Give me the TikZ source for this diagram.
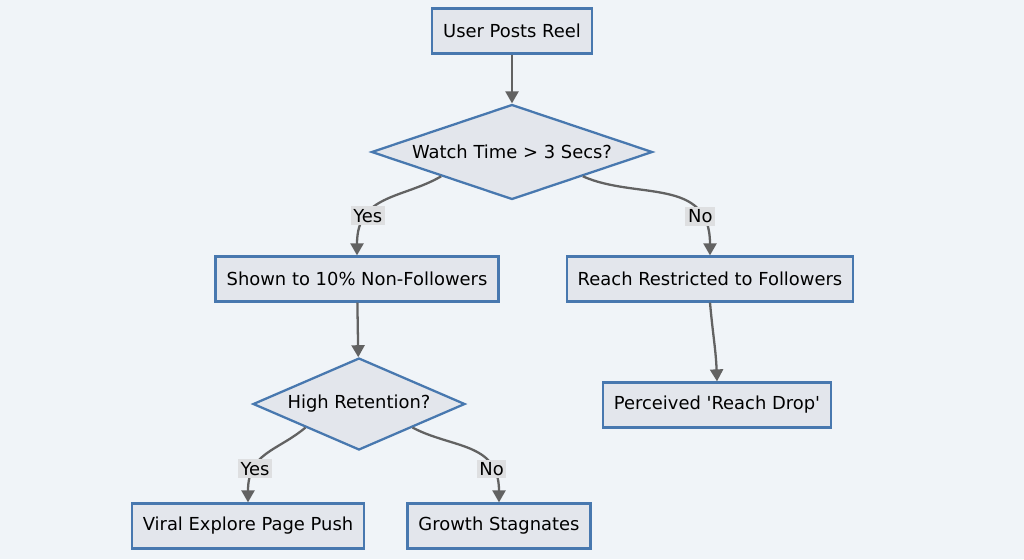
\documentclass[tikz,border=0pt]{standalone}
\usepackage{fontspec}
\setmainfont{DejaVu Sans}
\usepackage{xcolor}
\definecolor{canvas}{RGB}{240, 244, 248}
\definecolor{boxfill}{RGB}{227, 230, 236}
\definecolor{boxline}{RGB}{72, 120, 175}
\definecolor{link}{RGB}{98, 98, 98}
\definecolor{tagbg}{RGB}{222, 223, 225}
\usetikzlibrary{shapes.geometric,arrows.meta,positioning}

\begin{document}
\begin{tikzpicture}[
  x=0.02cm, y=0.02cm,
  stepbox/.style={draw=boxline, fill=boxfill, line width=1.3pt, font=\fontsize{10.2}{12}\selectfont, inner xsep=0.22cm, minimum height=0.9cm},
  decision/.style={diamond, draw=boxline, fill=boxfill, line width=1.3pt, font=\fontsize{10.2}{12}\selectfont, inner sep=0pt, aspect=3},
  tag/.style={fill=tagbg, text=black, font=\fontsize{10.2}{12}\selectfont, inner sep=1.5pt},
  arrow/.style={-{Triangle[length=2.4mm, width=2.6mm]}, line width=1.3pt, color=link}
]
\fill[canvas] (0,0) rectangle (1024,-559);

\node[stepbox] (post) at (512, -31) {User Posts Reel};
\node[decision, minimum width=5.62cm, minimum height=1.9cm] (watch) at (512, -152) {Watch Time > 3 Secs?};

\node[stepbox] (shown) at (357, -279) {Shown to 10\% Non-Followers};
\node[stepbox] (restrict) at (710, -279) {Reach Restricted to Followers};

\node[decision, minimum width=4.24cm, minimum height=1.84cm] (retain) at (359, -404) {High Retention?};
\node[stepbox] (drop) at (717, -405) {Perceived \textquotesingle Reach Drop\textquotesingle};

\node[stepbox] (viral) at (248, -526) {Viral Explore Page Push};
\node[stepbox] (stall) at (499, -526) {Growth Stagnates};

\draw[arrow] (watch.south west) to[out=-150, in=90, in looseness=1.35] node[tag, pos=0.7] {Yes} (shown.north);
\draw[arrow] (watch.south east) to[out=-24, in=90, in looseness=1.35] node[tag, pos=0.78] {No} (restrict.north);
\draw[arrow] (post) -- (watch);
\draw[arrow] (shown) -- (retain);
\draw[arrow] (restrict.south) to[out=-85, in=92] (drop.north);
\draw[arrow] (retain.south west) to[out=-140, in=90, in looseness=1.35] node[tag, pos=0.7] {Yes} (viral.north);
\draw[arrow] (retain.south east) to[out=-28, in=90, in looseness=1.35] node[tag, pos=0.76] {No} (stall.north);
\end{tikzpicture}
\end{document}
